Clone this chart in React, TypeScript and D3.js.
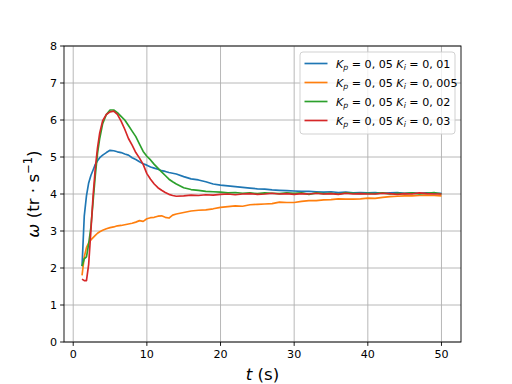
import * as d3 from "d3";
import React from "react";

// time samples (s) shared by the four runs
const times = [
  1.2, 1.5, 1.8, 2.1, 2.4, 2.7, 3.0, 3.3, 3.6, 4.0, 4.5, 5.0, 5.5, 6.0, 6.5, 7.0, 7.5, 8.0, 8.5, 9,
  9.5, 10, 10.5, 11, 11.5, 12, 12.5, 13, 13.5, 14, 15, 16, 17, 18, 19, 20, 21, 22, 23, 24, 25, 26,
  27, 28, 29, 30, 31, 32, 33, 34, 35, 36, 37, 38, 39, 40, 41, 42, 43, 44, 45, 46, 47, 48, 49, 50,
];

const ki001 = [
  2.05, 3.4, 3.95, 4.3, 4.5, 4.65, 4.8, 4.9, 4.98, 5.05, 5.12, 5.18, 5.17, 5.14, 5.12, 5.08, 5.05,
  4.98, 4.93, 4.87, 4.82, 4.78, 4.73, 4.7, 4.67, 4.63, 4.61, 4.58, 4.56, 4.54, 4.47, 4.41, 4.38,
  4.33, 4.27, 4.24, 4.22, 4.2, 4.18, 4.16, 4.14, 4.13, 4.11, 4.1, 4.09, 4.08, 4.07, 4.07, 4.06,
  4.05, 4.06, 4.04, 4.05, 4.03, 4.04, 4.03, 4.04, 4.02, 4.03, 4.04, 4.02, 4.03, 4.02, 4.03, 4.02, 4.02,
];

const ki0005 = [
  1.8, 2.3, 2.55, 2.68, 2.76, 2.82, 2.88, 2.94, 2.98, 3.02, 3.06, 3.09, 3.11, 3.14, 3.15, 3.17,
  3.19, 3.21, 3.24, 3.28, 3.26, 3.33, 3.36, 3.37, 3.4, 3.41, 3.37, 3.35, 3.43, 3.46, 3.5, 3.54,
  3.56, 3.57, 3.6, 3.64, 3.66, 3.68, 3.67, 3.71, 3.72, 3.73, 3.74, 3.78, 3.77, 3.77, 3.8, 3.82,
  3.82, 3.84, 3.85, 3.87, 3.86, 3.86, 3.87, 3.89, 3.88, 3.91, 3.93, 3.94, 3.95, 3.95, 3.96, 3.97, 3.96, 3.95,
];

const ki002 = [
  2.05, 2.25, 2.3, 2.65, 3.1, 3.8, 4.5, 5.1, 5.5, 5.9, 6.15, 6.27, 6.27, 6.2, 6.1, 6.0, 5.85, 5.7,
  5.55, 5.35, 5.15, 5.02, 4.92, 4.8, 4.7, 4.6, 4.5, 4.4, 4.33, 4.27, 4.17, 4.12, 4.1, 4.07, 4.06,
  4.05, 4.03, 4.04, 4.02, 4.03, 4.01, 4.03, 4.02, 4.01, 4.03, 4.02, 4.03, 3.99, 4.03, 4.01, 4.02,
  4.0, 4.03, 4.02, 4.01, 4.02, 4.01, 4.03, 4.0, 4.02, 4.01, 4.03, 4.0, 4.02, 4.04, 4.0,
];

const ki003 = [
  1.7, 1.66, 1.66, 2.1, 3.0, 3.95, 4.7, 5.25, 5.65, 5.98, 6.15, 6.22, 6.24, 6.15, 5.97, 5.75, 5.5,
  5.32, 5.12, 4.97, 4.8, 4.55, 4.4, 4.27, 4.17, 4.1, 4.04, 3.99, 3.96, 3.94, 3.95, 3.97, 3.96, 3.98,
  3.97, 3.99, 4.0, 3.98, 4.0, 4.01, 3.99, 4.0, 4.02, 4.0, 4.01, 3.99, 4.01, 4.0, 4.02, 4.0, 4.01,
  3.99, 4.02, 4.0, 4.01, 4.0, 4.0, 4.02, 4.01, 3.99, 4.01, 4.0, 4.03, 4.01, 4.0, 4.0,
];

const seriesValues = [ki001, ki0005, ki002, ki003];
const seriesKi = ["0, 01", "0, 005", "0, 02", "0, 03"];
const seriesColors = ["#1f77b4", "#ff7f0e", "#2ca02c", "#d62728"];
const xTicks = [0, 10, 20, 30, 40, 50];
const yTicks = [0, 1, 2, 3, 4, 5, 6, 7, 8];

const width = 512;
const height = 384;
const margin = { top: 46, right: 51, bottom: 42, left: 64 };

export default function App() {
  const x = d3
    .scaleLinear()
    .domain([-1.25, 52.65])
    .range([margin.left, width - margin.right]);
  const y = d3
    .scaleLinear()
    .domain([0, 8])
    .range([height - margin.bottom, margin.top]);

  const line = d3
    .line<number>()
    .x((_, i) => x(times[i]))
    .y((d) => y(d));

  const x0 = margin.left;
  const x1 = width - margin.right;
  const y0 = height - margin.bottom;
  const y1 = margin.top;
  const font = "DejaVu Sans, sans-serif";

  const legX = 300;
  const legY = 52;
  const rowH = 19;

  return (
    <svg
      width={width}
      height={height}
      style={{ position: "absolute", left: 0, top: 0, background: "#fff" }}
      fontFamily={font}
    >
      {/* grid */}
      {xTicks.map((t) => (
        <line key={"gx" + t} x1={x(t)} x2={x(t)} y1={y0} y2={y1} stroke="#b0b0b0" strokeWidth={0.9} />
      ))}
      {yTicks.map((t) => (
        <line key={"gy" + t} x1={x0} x2={x1} y1={y(t)} y2={y(t)} stroke="#b0b0b0" strokeWidth={0.9} />
      ))}

      {/* curves */}
      <g clipPath="url(#plotclip)">
        {seriesValues.map((vals, i) => (
          <path
            key={i}
            d={line(vals) || undefined}
            fill="none"
            stroke={seriesColors[i]}
            strokeWidth={1.67}
            strokeLinejoin="round"
          />
        ))}
      </g>
      <defs>
        <clipPath id="plotclip">
          <rect x={x0} y={y1} width={x1 - x0} height={y0 - y1} />
        </clipPath>
      </defs>

      {/* spines */}
      <rect x={x0} y={y1} width={x1 - x0} height={y0 - y1} fill="none" stroke="#000" strokeWidth={0.9} />

      {/* x ticks */}
      {xTicks.map((t) => (
        <g key={"xt" + t}>
          <line x1={x(t)} x2={x(t)} y1={y0} y2={y0 + 3.9} stroke="#000" strokeWidth={0.9} />
          <text x={x(t)} y={y0 + 15.5} fontSize={11.1} textAnchor="middle">
            {t}
          </text>
        </g>
      ))}
      {/* y ticks */}
      {yTicks.map((t) => (
        <g key={"yt" + t}>
          <line x1={x0 - 3.9} x2={x0} y1={y(t)} y2={y(t)} stroke="#000" strokeWidth={0.9} />
          <text x={x0 - 7} y={y(t) + 4} fontSize={11.1} textAnchor="end">
            {t}
          </text>
        </g>
      ))}

      {/* axis labels */}
      <text x={(x0 + x1) / 2} y={380} fontSize={16.7} textAnchor="middle">
        <tspan fontStyle="italic">t</tspan> (s)
      </text>
      <text
        transform={`translate(39, ${(y0 + y1) / 2}) rotate(-90)`}
        fontSize={16.7}
        textAnchor="middle"
      >
        <tspan fontStyle="italic">ω</tspan> (tr · s
        <tspan fontSize={11.5} dy={-7}>−1</tspan>
        <tspan dy={7}>)</tspan>
      </text>

      {/* legend */}
      <rect
        x={legX}
        y={legY}
        width={155}
        height={82}
        rx={3}
        fill="#fff"
        fillOpacity={0.8}
        stroke="#cccccc"
        strokeWidth={0.9}
      />
      {seriesKi.map((k, i) => {
        const ry = legY + 11.5 + i * rowH;
        return (
          <g key={"lg" + i}>
            <line x1={legX + 4.5} x2={legX + 27.5} y1={ry} y2={ry} stroke={seriesColors[i]} strokeWidth={1.67} />
            <text x={legX + 36} y={ry + 4} fontSize={11.1}>
              <tspan fontStyle="italic">K</tspan>
              <tspan fontStyle="italic" fontSize={7.8} dy={2}>p</tspan>
              <tspan dy={-2}> = 0, 05 </tspan>
              <tspan fontStyle="italic">K</tspan>
              <tspan fontStyle="italic" fontSize={7.8} dy={2}>i</tspan>
              <tspan dy={-2}> = {k}</tspan>
            </text>
          </g>
        );
      })}
    </svg>
  );
}
